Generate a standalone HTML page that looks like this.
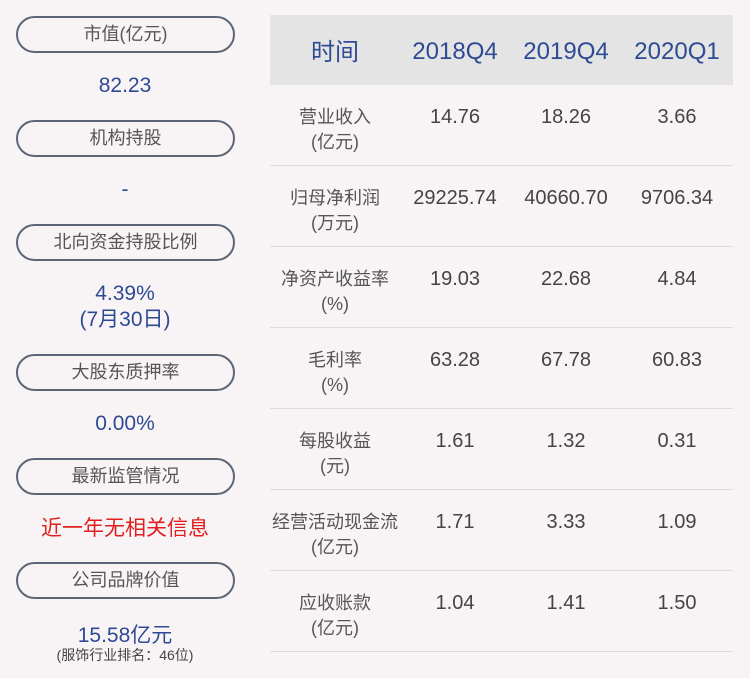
<!DOCTYPE html>
<html><head><meta charset="utf-8"><style>
body{margin:0;width:750px;height:678px;background:#f8f4f6;position:relative;overflow:hidden;font-family:"Liberation Sans","Noto Sans CJK SC",sans-serif}
.p{position:absolute;left:16px;width:215px;height:33px;border:2px solid #5d6676;border-radius:19px;text-align:center;line-height:33px;font-size:18px;color:#555}
.v{position:absolute;left:0;width:250px;text-align:center;color:#2e4a94;font-size:21px}
.hd{position:absolute;left:270px;top:15px;width:463px;height:70px;background:#e4e4e4}
.t{position:absolute;text-align:center;white-space:nowrap}
.h{color:#2e4a94;font-size:24px;top:38px}
.l{color:#555;font-size:18px;line-height:25px;width:140px}
.n{color:#444;font-size:20px}
.sep{position:absolute;left:270px;width:463px;height:1px;background:#dddddd}
</style></head><body>
<div class="p" style="top:16px">市值(亿元)</div>
<div class="v" style="top:74px">82.23</div>
<div class="p" style="top:120px">机构持股</div>
<div class="v" style="top:178px">-</div>
<div class="p" style="top:224px">北向资金持股比例</div>
<div class="v" style="top:281px;line-height:26px">4.39%<br>(7月30日)</div>
<div class="p" style="top:354px">大股东质押率</div>
<div class="v" style="top:412px">0.00%</div>
<div class="p" style="top:458px">最新监管情况</div>
<div class="v" style="top:512px;color:#e02020">近一年无相关信息</div>
<div class="p" style="top:562px">公司品牌价值</div>
<div class="v" style="top:619px">15.58亿元</div>
<div class="v" style="top:645px;font-size:14px;color:#444">(服饰行业排名：46位)</div>
<div class="hd"></div>
<div class="t h" style="left:285px;width:100px;top:32px">时间</div>
<div class="t h" style="left:405px;width:100px">2018Q4</div>
<div class="t h" style="left:516px;width:100px">2019Q4</div>
<div class="t h" style="left:627px;width:100px">2020Q1</div>
<div id="rows"></div>
<script>
var d=[["营业收入","(亿元)","14.76","18.26","3.66"],["归母净利润","(万元)","29225.74","40660.70","9706.34"],["净资产收益率","(%)","19.03","22.68","4.84"],["毛利率","(%)","63.28","67.78","60.83"],["每股收益","(元)","1.61","1.32","0.31"],["经营活动现金流","(亿元)","1.71","3.33","1.09"],["应收账款","(亿元)","1.04","1.41","1.50"]];
var h="";d.forEach(function(r,i){var y=85+i*81;
h+='<div class="t l" style="left:265px;top:'+(y+20)+'px">'+r[0]+'<br>'+r[1]+'</div>';
[455,566,677].forEach(function(c,j){h+='<div class="t n" style="left:'+(c-70)+'px;width:140px;top:'+(y+21)+'px">'+r[j+2]+'</div>';});
h+='<div class="sep" style="top:'+(y+80)+'px"></div>';});
document.getElementById("rows").innerHTML=h;
</script>
</body></html>
